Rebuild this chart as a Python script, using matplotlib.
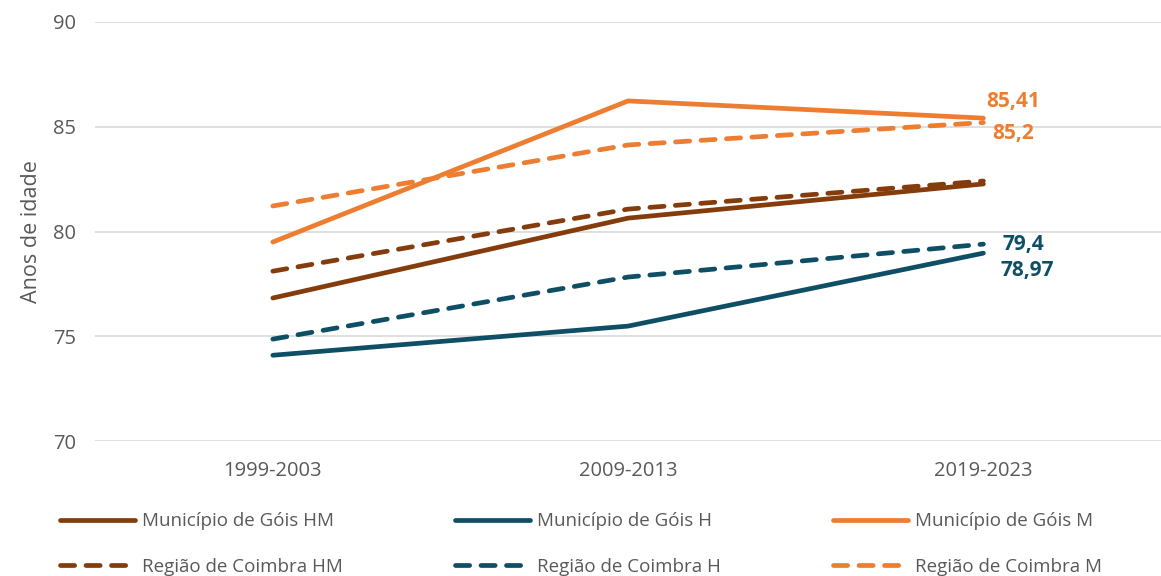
import matplotlib.pyplot as plt

# Dados (anos de idade - esperança de vida)
periodos = ['1999-2003', '2009-2013', '2019-2023']

gois_hm = [76.83, 80.64, 82.27]
gois_h = [74.10, 75.49, 78.97]
gois_m = [79.50, 86.23, 85.41]
coimbra_hm = [78.11, 81.07, 82.41]
coimbra_h = [74.87, 77.83, 79.40]
coimbra_m = [81.22, 84.13, 85.20]

castanho = '#843C0C'
azul = '#0E4F66'
laranja = '#ED7D31'

plt.rcParams['font.family'] = ['Open Sans', 'DejaVu Sans']

fig = plt.figure(figsize=(11.61, 5.76), dpi=100)
ax = fig.add_axes([0.082, 0.234, 0.918, 0.728])

x = range(len(periodos))
tracejado = (0, (3.0, 2.4))
lw = 3.4

l1, = ax.plot(x, gois_hm, color=castanho, lw=lw, solid_capstyle='round', label='Município de Góis HM')
l2, = ax.plot(x, gois_h, color=azul, lw=lw, solid_capstyle='round', label='Município de Góis H')
l3, = ax.plot(x, gois_m, color=laranja, lw=lw, solid_capstyle='round', label='Município de Góis M')
l4, = ax.plot(x, coimbra_hm, color=castanho, lw=lw, ls=tracejado, dash_capstyle='round', label='Região de Coimbra HM')
l5, = ax.plot(x, coimbra_h, color=azul, lw=lw, ls=tracejado, dash_capstyle='round', label='Região de Coimbra H')
l6, = ax.plot(x, coimbra_m, color=laranja, lw=lw, ls=tracejado, dash_capstyle='round', label='Região de Coimbra M')

# rótulos do último ponto (deslocamento em pixels)
def rotulo(v, cor, dx, dy):
    ax.annotate(f'{v:g}'.replace('.', ','), (2, v), xytext=(dx * 0.72, dy * 0.72),
                textcoords='offset points', color=cor, fontsize=15, fontweight='bold',
                ha='left', va='center')

rotulo(gois_m[2], laranja, 3, 17)
rotulo(coimbra_m[2], laranja, 9, -11)
rotulo(coimbra_h[2], azul, 19, 0)
rotulo(gois_h[2], azul, 17, -17)

ax.set_xlim(-0.5, 2.5)
ax.set_ylim(70, 90)
ax.set_yticks([70, 75, 80, 85, 90])
ax.set_xticks(list(x))
ax.set_xticklabels(periodos)
ax.grid(axis='y', color='#D9D9D9', lw=1.2)
ax.set_axisbelow(True)
for s in ax.spines.values():
    s.set_visible(False)
ax.tick_params(length=0, labelsize=14.5, colors='#595959', pad=14)
ax.set_ylabel('Anos de idade', fontsize=15.5, color='#595959', labelpad=8)

handles = [l1, l4, l2, l5, l3, l6]
ax.legend(handles=handles, labels=[h.get_label() for h in handles],
          loc='upper left', bbox_to_anchor=(-0.04, -0.152), ncol=3, frameon=False,
          fontsize=13.5, handlelength=4.0, handletextpad=0.35, columnspacing=6.0,
          labelcolor='#595959', borderaxespad=0, labelspacing=1.45)

fig.savefig('out.png', dpi=100)
